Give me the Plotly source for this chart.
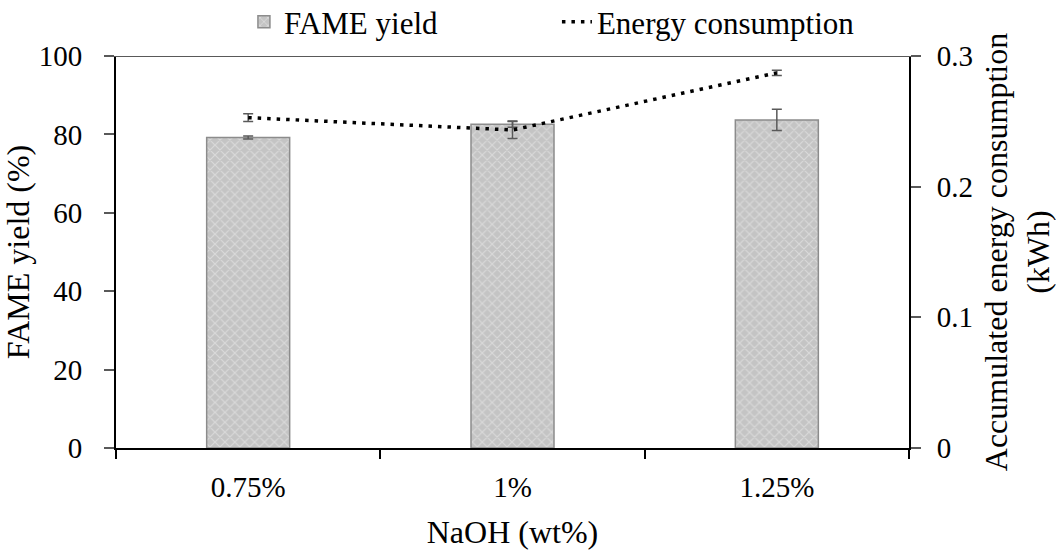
import plotly.graph_objects as go

categories = ["0.75%", "1%", "1.25%"]
fame_yield = [79.2, 82.6, 83.7]
fame_err = [0.4, 0.8, 2.7]
energy = [0.2528, 0.2434, 0.2871]
energy_err = [0.003, 0.0065, 0.002]

FONT = "Liberation Serif, Times New Roman, serif"
TICKFONT = dict(family=FONT, size=29, color="black")

fig = go.Figure()
fig.add_trace(go.Bar(
    x=categories, y=fame_yield, name="FAME yield", width=0.314,
    marker=dict(color="#c8c8c8", line=dict(color="#8c8c8c", width=1.5),
                pattern=dict(shape="x", fgcolor="#f0f0f0", bgcolor="#c4c4c4", size=7, solidity=0.3)),
    error_y=dict(type="data", array=fame_err, color="#595959", thickness=1.5, width=5),
    yaxis="y",
))
fig.add_trace(go.Scatter(
    x=categories, y=energy, name="Energy consumption", mode="lines",
    line=dict(color="black", width=3.5, dash="3.5px,6px"),
    error_y=dict(type="data", array=energy_err, color="#595959", thickness=1.5, width=5),
    yaxis="y2",
))

fig.add_shape(type="line", xref="paper", yref="y", x0=-0.013, x1=1.012, y0=100, y1=100,
              line=dict(color="#595959", width=2))

fig.update_layout(
    width=1056, height=550,
    margin=dict(l=116, r=147, t=56, b=102, autoexpand=False),
    paper_bgcolor="white", plot_bgcolor="white",
    font=dict(family=FONT, size=27, color="black"),
    showlegend=True,
    legend=dict(orientation="h", xref="container", yref="container",
                x=0.231, xanchor="left", y=1 - 22 / 550, yanchor="middle",
                font=dict(size=31), entrywidth=268, entrywidthmode="pixels",
                traceorder="normal", bgcolor="rgba(0,0,0,0)"),
    xaxis=dict(
        title=dict(text="NaOH (wt%)", standoff=20),
        tickfont=TICKFONT, ticklabelstandoff=12,
        showline=True, linecolor="black", linewidth=2,
        ticks="outside", ticklen=9, tickcolor="black", tickwidth=1.5,
        tickson="boundaries", showgrid=False,
    ),
    yaxis=dict(
        title=dict(text="FAME yield (%)", standoff=2),
        tickfont=TICKFONT, ticklabelstandoff=16,
        range=[0, 100], dtick=20, showgrid=False, zeroline=False,
        showline=True, linecolor="black", linewidth=2,
        ticks="outside", ticklen=10, tickcolor="#595959", tickwidth=1.5,
    ),
    yaxis2=dict(
        title=dict(text="Accumulated energy consumption<br>(kWh)", standoff=16),
        tickfont=TICKFONT, ticklabelstandoff=10,
        overlaying="y", side="right",
        range=[0, 0.3], dtick=0.1, showgrid=False, zeroline=False,
        showline=True, linecolor="black", linewidth=2,
        ticks="outside", ticklen=10, tickcolor="#595959", tickwidth=1.5,
    ),
)

fig.write_html("out.html")
